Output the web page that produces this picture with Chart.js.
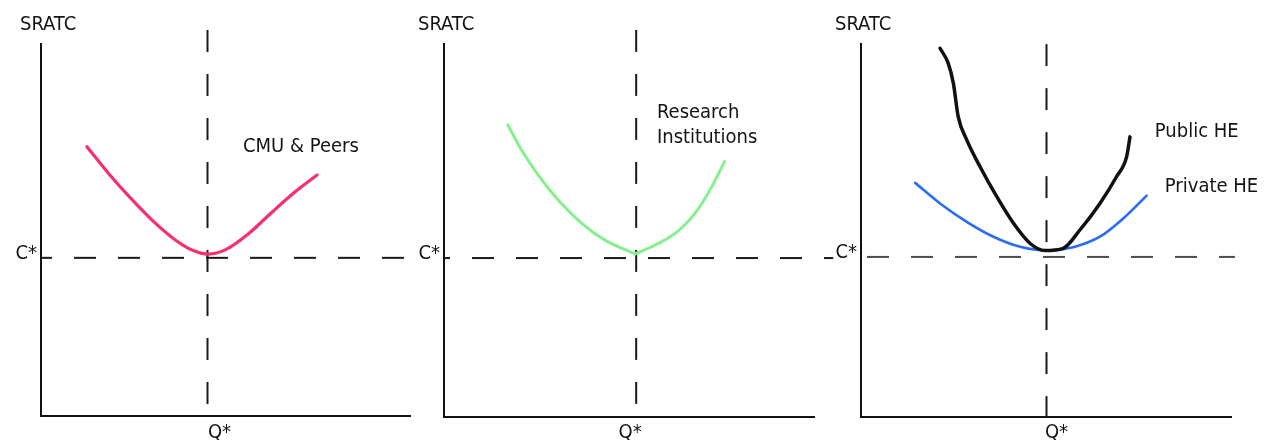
<!DOCTYPE html>
<html>
<head>
<meta charset="utf-8">
<title>SRATC comparison</title>
<script src="https://cdn.jsdelivr.net/npm/chart.js@4"></script>
<style>
  html, body { margin: 0; padding: 0; background: #fff; }
  #wrap { position: relative; width: 1266px; height: 440px; overflow: hidden; }
  #wrap canvas { position: absolute; top: 0; }
</style>
</head>
<body>
<div id="wrap">
  <canvas id="panel-0"></canvas>
  <canvas id="panel-1"></canvas>
  <canvas id="panel-2"></canvas>
</div>
<script>
// --- data (quantity and cost in percent of axis length) ---
var qStar = [45, 51.8, 50];
var cStar = [42.4, 42.5, 42.8];

var cmuQ    = [12.4, 18.2, 24.6, 30.9, 36.3, 40.8, 45.2, 49.9, 56.0, 62.5, 68.7, 74.6];
var cmuCost = [72.2, 65.1, 58.0, 51.7, 47.2, 44.5, 43.4, 44.6, 48.8, 54.7, 60.1, 64.6];

var researchQ    = [17.2, 20.9, 25.4, 30.8, 37.1, 43.4, 51.5, 56.9, 62.3, 67.7, 72.2, 75.6];
var researchCost = [78.1, 71.4, 64.7, 58.0, 51.8, 47.3, 43.6, 46.0, 49.1, 54.5, 61.6, 68.3];

var publicQ    = [21.3, 23.5, 24.9, 26.2, 28.5, 32.1, 36.6, 41.1, 45.6, 49.6, 54.5, 59.0, 64.4, 68.9, 71.6, 72.5];
var publicCost = [98.6, 94.6, 89.2, 80.3, 74.1, 66.9, 58.9, 51.8, 46.4, 44.5, 45.1, 50.0, 57.1, 64.3, 69.6, 74.9];

var privateQ    = [14.6, 21.3, 28.5, 35.7, 42.9, 50.1, 57.2, 64.4, 70.7, 77.0];
var privateCost = [62.6, 57.1, 52.2, 48.2, 45.5, 44.5, 45.4, 48.2, 53.1, 59.2];

var axisTitle = 'SRATC';
var costTick = 'C*';
var qtyTick = 'Q*';

// --- layout of the three panels (page pixels) ---
var panels = [
  { id: 'panel-0', left: 0,   width: 418, padLeft: 41, axisPx: 370, axisBottom: 416, yTop: 100, vTop: 103.5, hEnd: 101.4, dashOffset: 11, hColor: '#1a1a1a', titleShift: 21, qShift: 12,
    curves: [{ q: cmuQ, c: cmuCost, color: '#f72f6c', width: 3.2 }],
    labels: [{ text: 'CMU & Peers', q: 54.6, c: 70.8 }] },
  { id: 'panel-1', left: 418, width: 416, padLeft: 26, axisPx: 371, axisBottom: 417, yTop: 100, vTop: 103.5, hEnd: 104.9, dashOffset: 16, hColor: '#1a1a1a', titleShift: 26, qShift: -6,
    curves: [{ q: researchQ, c: researchCost, color: '#84f08e', width: 3, kink: true }],
    labels: [{ text: 'Research', q: 57.4, c: 79.9 }, { text: 'Institutions', q: 57.4, c: 73.3 }] },
  { id: 'panel-2', left: 834, width: 432, padLeft: 27, axisPx: 371, axisBottom: 417, yTop: 100, vTop: 99.7, hEnd: 100.8, dashOffset: 38, hColor: '#4d4d4d', titleShift: 26, qShift: 10,
    curves: [{ q: publicQ, c: publicCost, color: '#111111', width: 3.5 },
             { q: privateQ, c: privateCost, color: '#2b6cf2', width: 2.6 }],
    labels: [{ text: 'Public HE', q: 79.2, c: 74.9 }, { text: 'Private HE', q: 81.9, c: 60.2 }] }
];

var FONT = '20px "Liberation Sans Narrow", "DejaVu Sans Condensed", Lato, sans-serif';

function pts(xs, ys) {
  return xs.map(function(x, i) { return { x: x, y: ys[i] }; });
}

var textPlugin = {
  id: 'panelText',
  afterDraw: function(chart) {
    var p = chart.options.plugins.panelText;
    var ctx = chart.ctx;
    var xs = chart.scales.x;
    var ys = chart.scales.y;
    var x0 = xs.getPixelForValue(0);
    ctx.save();
    ctx.font = FONT;
    ctx.fillStyle = '#141414';
    ctx.textBaseline = 'alphabetic';

    ctx.textAlign = 'left';
    ctx.fillText(axisTitle, x0 - p.titleShift, 30);

    ctx.textAlign = 'right';
    ctx.fillText(costTick, x0 - 4, ys.getPixelForValue(p.cStar) + 1);

    ctx.textAlign = 'center';
    ctx.fillText(qtyTick, xs.getPixelForValue(p.qStar) + p.qShift, 438);

    ctx.textAlign = 'left';
    p.labels.forEach(function(l) {
      ctx.fillText(l.text, xs.getPixelForValue(l.q), ys.getPixelForValue(l.c));
    });
    ctx.restore();
  }
};

panels.forEach(function(p, i) {
  var canvas = document.getElementById(p.id);
  canvas.width = p.width;
  canvas.height = 440;
  canvas.style.left = p.left + 'px';

  var padTop = 20;
  var padBottom = 440 - p.axisBottom;
  var xMax = 100 * (p.width - p.padLeft) / p.axisPx;
  var yMax = 100 * (p.axisBottom - padTop) / (p.axisBottom - 43);

  var datasets = [];
  p.curves.forEach(function(c) {
    var all = pts(c.q, c.c);
    var parts = [all];
    if (c.kink) {
      // split at the minimum so the bottom keeps its corner
      var m = c.c.indexOf(Math.min.apply(null, c.c));
      parts = [all.slice(0, m + 1), all.slice(m)];
    }
    parts.forEach(function(part) {
      datasets.push({
        data: part, borderColor: c.color, borderWidth: c.width,
        cubicInterpolationMode: 'monotone', pointRadius: 0, clip: false, order: 0,
        borderCapStyle: 'round', borderJoinStyle: 'round'
      });
    });
  });
  // Q* guide
  datasets.push({
    data: [{ x: qStar[i], y: p.vTop }, { x: qStar[i], y: 0 }],
    borderColor: '#1a1a1a', borderWidth: 2, borderDash: [22, 22], borderDashOffset: 0,
    pointRadius: 0, clip: false, order: 1
  });
  // C* guide
  datasets.push({
    data: [{ x: 0, y: cStar[i] }, { x: p.hEnd, y: cStar[i] }],
    borderColor: p.hColor, borderWidth: 2, borderDash: [22, 22], borderDashOffset: p.dashOffset,
    pointRadius: 0, clip: false, order: 1
  });
  // axes
  datasets.push({
    data: [{ x: 0, y: p.yTop }, { x: 0, y: 0 }, { x: 100, y: 0 }],
    borderColor: '#111', borderWidth: 2, pointRadius: 0, clip: false, order: 2,
    borderJoinStyle: 'miter'
  });

  new Chart(canvas, {
    type: 'line',
    data: { datasets: datasets },
    options: {
      responsive: false,
      animation: false,
      events: [],
      devicePixelRatio: 1,
      layout: { padding: { left: p.padLeft, right: 0, top: padTop, bottom: padBottom } },
      scales: {
        x: { type: 'linear', min: 0, max: xMax, display: false },
        y: { type: 'linear', min: 0, max: yMax, display: false }
      },
      plugins: {
        legend: { display: false },
        tooltip: { enabled: false },
        panelText: { titleShift: p.titleShift, qShift: p.qShift, cStar: cStar[i], qStar: qStar[i], labels: p.labels }
      }
    },
    plugins: [textPlugin]
  });
});
</script>
</body>
</html>
